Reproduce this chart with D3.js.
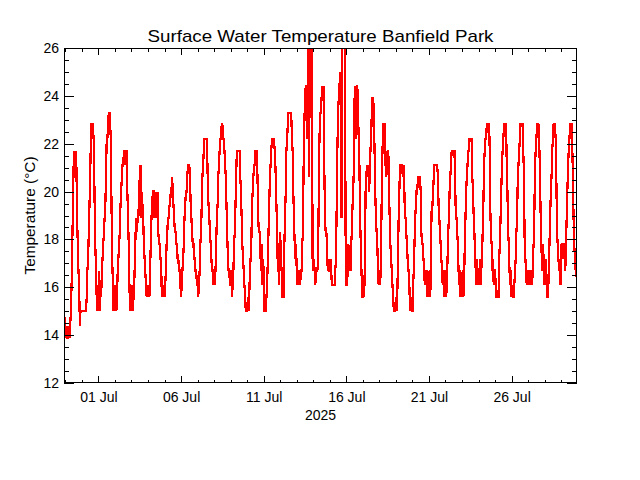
<!DOCTYPE html>
<html><head><meta charset="utf-8">
<script src="https://cdn.jsdelivr.net/npm/d3@7/dist/d3.min.js"></script>
<style>body{margin:0;background:#fff}svg{display:block}text{font-family:"Liberation Sans",Arial,sans-serif;fill:#000}</style>
</head><body>
<svg id="chart" width="640" height="480"></svg>
<script>
// ---- data ----
const titleText = "Surface Water Temperature Banfield Park";
const yTitle = "Temperature (\u00B0C)";
const yearLabel = "2025";
const firstReading = "2025-06-28T22:00:00Z"; // hourly readings
const tempC = [
 16.1,13.9,
 14.4,13.9,14.4,13.9,13.9,14.4,13.9,14.4,15,16.1,17.8,19.4,21.1,21.7,20.6,21.7,21.1,18.9,17.8,16.7,16.1,14.4,15,15,
 15,15,15,15,15,15,15,15.6,16.7,17.2,18.3,19.4,20.6,22.2,22.8,22.8,22.8,22.2,20.6,18.3,17.2,16.1,15,16.1,
 15,16.7,15,16.1,15.6,16.7,17.2,17.8,18.3,18.9,19.4,20.6,22.2,22.2,22.8,23.3,23.3,22.8,22.2,19.4,17.2,16.1,15,16.1,
 15,16.1,15,15.6,16.7,17.2,17.8,18.3,19.4,20,20.6,21.1,21.1,21.7,21.7,21.1,21.7,21.7,20,18.9,17.8,16.1,15,16.1,
 15,16.1,15,15.6,16.1,17.2,18.3,18.9,18.3,18.9,18.9,20,20.6,21.1,18.9,20,19.4,18.9,17.8,17.2,16.7,16.1,15.6,16.1,
 15.6,16.1,15.6,16.7,17.8,18.9,19.4,20,20,18.9,20,18.9,20,18.9,20,18.3,17.8,17.8,17.2,17.2,15.6,16.1,15.6,16.1,
 15.6,16.1,16.7,17.8,18.3,18.9,18.9,19.4,19.4,20,20,20.6,20,19.4,18.9,18.3,18.3,17.8,17.8,17.2,17.2,16.7,16.7,16.1,
 15.6,16.1,16.7,17.2,17.8,18.9,19.4,20,20,20.6,21.1,21.1,21.1,20.6,19.4,18.9,18.3,17.8,17.8,17.2,17.2,16.7,16.7,16.1,
 16.1,15.6,16.1,16.7,17.8,18.3,19.4,20.6,21.1,21.7,22.2,22.2,22.2,22.2,21.7,20,19.4,18.9,18.3,17.8,17.2,16.7,16.7,16.1,
 16.7,16.1,16.7,17.8,18.9,19.4,20.6,21.1,21.7,22.2,22.2,22.8,22.8,22.2,22.2,21.7,21.1,20.6,19.4,18.3,17.2,16.7,16.7,16.1,
 16.1,16.7,15.6,16.1,16.7,17.8,18.3,19.4,20.6,21.7,21.7,21.7,21.7,21.7,20.6,20,18.9,17.8,17.2,16.7,16.1,15.6,15,15,
 15,15.6,15,15.6,16.7,17.2,17.8,19.4,20,20.6,21.1,21.1,21.7,21.7,21.7,20.6,18.9,18.3,18.3,17.8,16.7,17.8,16.1,17.2,
 16.7,15,15,15,15.6,16.1,17.2,18.3,19.4,20.6,21.1,21.7,22.2,22.2,22.2,22.2,21.7,21.1,20,18.9,17.2,17.8,16.1,17.8,
 18.3,17.2,16.7,15.6,15.6,15.6,17.8,18.9,20,21.7,22.2,22.8,23.3,23.3,23.3,23.3,23.3,22.2,21.7,20,18.9,17.8,17.2,17.8,
 16.7,16.1,16.7,16.1,16.7,16.1,16.7,16.7,17.8,18.3,21.1,22.8,23.9,24.4,24.4,22.2,24.4,26.1,20.6,26.7,26.7,26.7,26.1,17.2,
 16.7,17.2,16.7,16.1,16.7,16.7,16.7,17.2,20,22.2,23.3,23.3,23.9,24.4,23.9,24.4,21.1,18.9,18.3,18.3,17.8,16.7,17.2,16.7,
 16.7,17.2,16.7,16.1,16.1,16.1,16.1,16.1,16.7,17.2,19.4,21.7,23.3,23.9,24.4,25,23.9,18.9,26.1,26.7,26.7,26.7,26.1,17.8,
 16.1,16.1,16.7,17.8,16.7,17.2,16.7,17.8,18.3,19.4,20,21.1,23.9,24.4,22.2,24.4,24.4,23.3,22.2,21.1,18.9,17.8,16.7,15.6,
 15.6,16.1,15.6,17.2,20,20.6,21.1,20.6,21.1,20,20.6,21.7,22.2,23.3,23.9,23.9,23.3,21.7,20,18.9,18.3,17.8,16.7,16.1,
 16.7,16.1,16.7,18.9,21.1,22.2,22.8,22.8,22.8,21.1,20.6,21.1,21.7,21.7,20,18.9,17.8,17.2,16.7,16.1,15.6,15,15,15,
 15.6,15,15.6,17.2,18.9,20,21.1,21.1,21.1,21.1,20.6,21.1,20.6,18.9,18.9,18.3,17.8,17.2,16.7,16.7,15.6,15,15.6,15,
 15,16.1,16.7,17.8,18.9,19.4,20,20,20.6,20.6,20.6,20.6,20,18.3,17.8,17.8,17.2,16.7,16.1,16.7,16.1,16.7,15.6,16.1,
 16.1,16.7,15.6,17.8,19.4,19.4,20,20.6,21.1,21.1,21.1,21.1,21.1,20.6,19.4,18.9,18.3,17.8,17.2,16.7,16.1,16.7,15.6,16.1,
 16.7,15.6,16.1,17.2,18.3,18.9,20,20.6,21.1,21.7,21.7,21.7,21.7,21.7,20.6,18.9,18.9,18.3,17.8,16.7,16.1,16.7,15.6,16.1,
 16.1,16.7,15.6,16.1,17.8,18.9,20,20.6,21.1,21.7,21.7,22.2,22.2,22.2,22.2,20.6,20,18.9,18.3,17.2,16.7,16.1,17.2,16.1,
 16.7,16.1,17.2,16.1,16.7,17.2,18.3,19.4,21.1,21.7,22.2,22.2,22.8,22.8,22.8,22.8,22.2,19.4,18.3,17.8,16.7,17.2,16.1,16.7,
 16.7,16.1,15.6,15.6,15.6,15.6,17.2,17.8,18.9,20,21.1,21.7,22.2,22.8,22.8,22.8,22.8,21.1,20,18.3,17.8,16.7,16.1,16.7,
 15.6,16.1,15.6,15.6,16.1,16.7,17.2,18.3,18.9,20.6,21.1,21.7,22.2,22.8,22.8,22.8,22.8,21.7,20.6,17.8,17.2,16.7,16.1,16.7,
 16.1,16.7,16.1,16.7,16.1,16.7,16.1,17.2,17.8,18.9,21.1,21.7,22.2,22.8,22.8,22.8,22.2,21.1,19.4,17.8,17.2,16.7,17.8,16.1,
 16.7,16.1,17.2,16.1,15.6,15.6,16.7,17.8,18.9,20,20.6,21.7,22.2,22.8,22.8,22.8,22.2,20.6,18.3,17.8,17.2,16.7,17.2,16.1,
 17.8,17.2,17.8,17.8,17.8,17.2,16.7,17.8,18.9,20,21.1,21.7,22.2,22.8,22.8,22.8,22.2,20.6,18.9,17.8,17.2,16.7,16.7,16.1
];
const yMajorTicks = [12,14,16,18,20,22,24,26];
const xMajorDates = ["2025-07-01","2025-07-06","2025-07-11","2025-07-16","2025-07-21","2025-07-26"];
const xMajorLabels = ["01 Jul","06 Jul","11 Jul","16 Jul","21 Jul","26 Jul"];

// ---- layout ----
const L = 64, R = 577, T = 48, B = 383;
const svg = d3.select("#chart");
const t0 = new Date(firstReading).getTime();
const points = tempC.map((v, i) => ({ t: new Date(t0 + i * 3600000), v }));

const x = d3.scaleUtc().domain([points[0].t, points[points.length - 1].t]).range([L, R]);
const y = d3.scaleLinear().domain([12, 26]).range([B, T]);

svg.append("rect").attr("width", 640).attr("height", 480).attr("fill", "#fff");

svg.append("defs").append("clipPath").attr("id", "clip")
  .append("rect").attr("x", L).attr("y", T).attr("width", R - L).attr("height", B - T);

// data line (aliased, like the original raster plot)
svg.append("path").datum(points)
  .attr("clip-path", "url(#clip)")
  .attr("fill", "none").attr("stroke", "#ff0000").attr("stroke-width", 2.2)
  .attr("stroke-linejoin", "miter").attr("stroke-miterlimit", 2)
  .attr("shape-rendering", "crispEdges")
  .attr("d", d3.line().x(d => x(d.t)).y(d => y(d.v)));

const majorX = xMajorDates.map(s => new Date(s + "T00:00:00Z"));
const dayTicks = d3.utcDay.range(d3.utcDay.ceil(x.domain()[0]), x.domain()[1]);
const minorY = d3.range(12, 26.01, 0.5);

function styleAxis(g) {
  g.select(".domain").remove();
  g.selectAll("line").attr("stroke", "#000").attr("shape-rendering", "crispEdges");
  g.selectAll("text").attr("font-size", 14).attr("font-family", '"Liberation Sans", Arial, sans-serif');
}

svg.append("g").attr("transform", `translate(0,${B})`)
  .call(d3.axisBottom(x).tickValues(dayTicks).tickSize(-3.5).tickFormat(""))
  .call(styleAxis);
svg.append("g").attr("transform", `translate(0,${B})`)
  .call(d3.axisBottom(x).tickValues(majorX).tickSize(-7).tickPadding(9)
    .tickFormat((d, i) => xMajorLabels[i]))
  .call(styleAxis);
svg.append("g").attr("transform", `translate(0,${T})`)
  .call(d3.axisTop(x).tickValues(dayTicks).tickSize(-3.5).tickFormat(""))
  .call(styleAxis);
svg.append("g").attr("transform", `translate(0,${T})`)
  .call(d3.axisTop(x).tickValues(majorX).tickSize(-7).tickFormat(""))
  .call(styleAxis);
svg.append("g").attr("transform", `translate(${L},0)`)
  .call(d3.axisLeft(y).tickValues(minorY).tickSize(-5).tickFormat(""))
  .call(styleAxis);
svg.append("g").attr("transform", `translate(${L},0)`)
  .call(d3.axisLeft(y).tickValues(yMajorTicks).tickSize(-10).tickPadding(5).tickFormat(d3.format("d")))
  .call(styleAxis);
svg.append("g").attr("transform", `translate(${R},0)`)
  .call(d3.axisRight(y).tickValues(minorY).tickSize(-5).tickFormat(""))
  .call(styleAxis);
svg.append("g").attr("transform", `translate(${R},0)`)
  .call(d3.axisRight(y).tickValues(yMajorTicks).tickSize(-10).tickFormat(""))
  .call(styleAxis);

svg.append("rect").attr("x", L + 0.5).attr("y", T + 0.5).attr("width", R - L - 1).attr("height", B - T - 1)
  .attr("fill", "none").attr("stroke", "#000").attr("stroke-width", 1).attr("shape-rendering", "crispEdges");

svg.append("text").attr("x", (L + R) / 2).attr("y", 42).attr("text-anchor", "middle")
  .attr("font-size", 17).attr("textLength", 346).attr("lengthAdjust", "spacingAndGlyphs").text(titleText);
svg.append("text").attr("x", (L + R) / 2).attr("y", 420).attr("text-anchor", "middle")
  .attr("font-size", 14).text(yearLabel);
svg.append("text").attr("transform", `translate(35,${(T + B) / 2}) rotate(-90)`).attr("text-anchor", "middle")
  .attr("font-size", 14).attr("textLength", 118).attr("lengthAdjust", "spacingAndGlyphs").text(yTitle);
</script>
</body></html>
